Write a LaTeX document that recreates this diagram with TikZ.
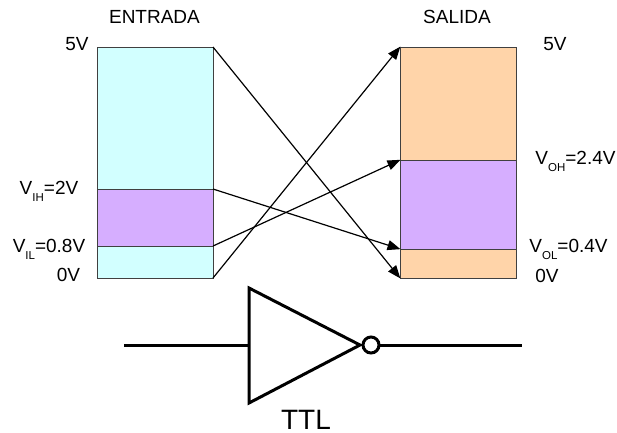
\documentclass[tikz,border=0pt]{standalone}
\usepackage{fontspec}
\setmainfont{Liberation Sans}
\usetikzlibrary{arrows.meta}
\definecolor{celeste}{HTML}{D2FFFF}
\definecolor{lila}{HTML}{D6AEFF}
\definecolor{naranja}{HTML}{FFD4A9}
\newcommand{\tension}[2]{V\raisebox{-.7ex}{\fontsize{11.5}{13}\selectfont #1}#2}
\begin{document}
\begin{tikzpicture}[x=1pt,y=-1pt,
  band/.style={draw=black!75,line width=1pt,minimum width=116pt,inner sep=0pt,outer sep=0pt,anchor=north west},
  etiq/.style={font=\fontsize{19}{21}\selectfont,inner sep=0pt,anchor=base},
  enlace/.style={black,line width=1.2pt,-{Triangle[length=13pt,width=10pt]},shorten >=-0.5pt},
  puerta/.style={black,line width=3pt},
  ]
\useasboundingbox (0,0) rectangle (617,432);

\node[band,fill=celeste,minimum height=142pt] (in5) at (97,47) {};
\node[band,fill=lila,minimum height=57pt] (inH) at (97,189) {};
\node[band,fill=celeste,minimum height=32pt] (inL) at (97,246) {};

\node[band,fill=naranja,minimum height=113pt] (out5) at (400,47) {};
\node[band,fill=lila,minimum height=89pt] (outH) at (400,160) {};
\node[band,fill=naranja,minimum height=29pt] (outL) at (400,249) {};

\draw[enlace] (in5.north east) -- (outL.south west);
\draw[enlace] (inH.north east) -- (outL.north west);
\draw[enlace] (inL.north east) -- (outH.north west);
\draw[enlace] (inL.south east) -- (out5.north west);

\node[etiq] (entrada) at (154.5,23) {ENTRADA};
\node[etiq] (salida) at (457,23) {SALIDA};
\node[etiq] (a5) at (77,50) {5V};
\node[etiq] (aH) at (49,194) {\tension{IH}{=2V}};
\node[etiq] (aL) at (49,252) {\tension{IL}{=0.8V}};
\node[etiq] (a0) at (68.5,281) {0V};
\node[etiq] (b5) at (555,50) {5V};
\node[etiq] (bH) at (575.5,164) {\tension{OH}{=2.4V}};
\node[etiq] (bL) at (568.5,252) {\tension{OL}{=0.4V}};
\node[etiq] (b0) at (547,282) {0V};

\coordinate (top) at (249,288);
\coordinate (bot) at (249,403);
\coordinate (tip) at (360,345);
\coordinate (ent) at (124,345);
\coordinate (sal) at (522,345);
\draw[puerta,line join=miter] (top) -- (tip) -- (bot) -- cycle;
\node[circle,draw,line width=3pt,fill=white,minimum size=16pt,inner sep=0pt,outer sep=0pt] (neg) at (371,345) {};
\draw[puerta] (ent) -- (249,345);
\draw[puerta] (neg.east) -- (sal);
\node[font=\fontsize{28}{30}\selectfont,inner sep=0pt,anchor=base] (ttl) at (306,429) {TTL};
\end{tikzpicture}
\end{document}
